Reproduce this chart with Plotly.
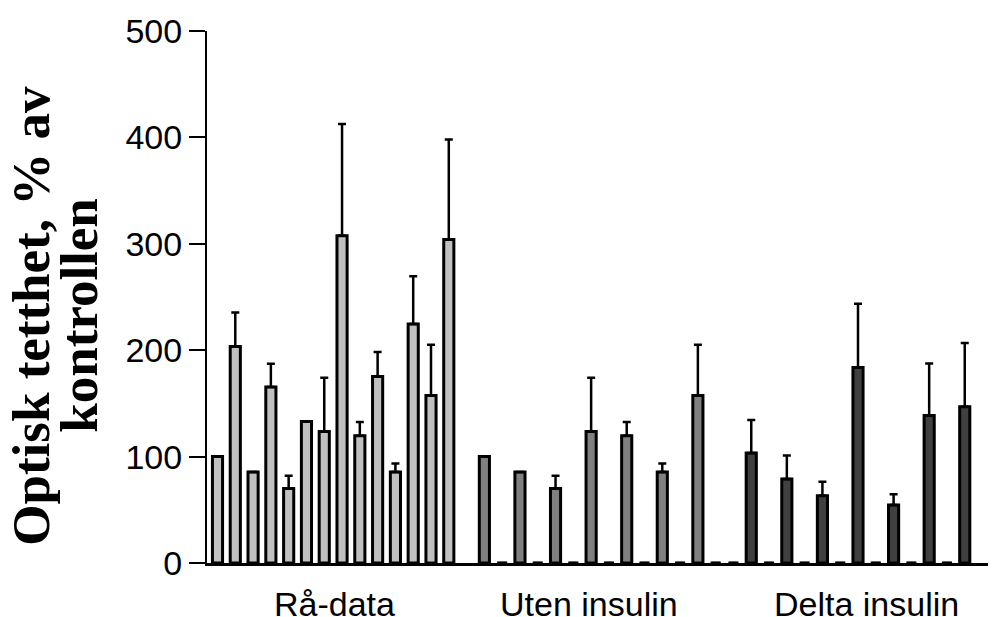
import plotly.graph_objects as go

# slot positions along the category axis (one empty slot between first two groups)
raw_slots = list(range(0, 14))
uten_slots = list(range(15, 29))
delta_slots = list(range(29, 43))

raw_values = [100, 203.5, 85.6, 165.3, 70, 133, 123.5, 307.6, 119.5, 175.3, 85.6, 224.6, 157.4, 304]
raw_errors = [0, 32, 0, 22, 12, 0, 50.5, 105, 13, 23, 8, 45, 47.7, 94]

uten_values = [100, 0, 85.6, 0, 70, 0, 123.5, 0, 119.5, 0, 85.6, 0, 157.4, 0]
uten_errors = [0, 0, 0, 0, 12, 0, 50.5, 0, 13, 0, 8, 0, 47.7, 0]

delta_values = [0, 103.5, 0, 79, 0, 63.3, 0, 183.7, 0, 54.6, 0, 138.6, 0, 146.8]
delta_errors = [0, 31, 0, 22, 0, 13, 0, 60, 0, 10, 0, 49, 0, 60]

group_labels = ["Rå-data", "Uten insulin", "Delta insulin"]
group_label_pos = [6.6, 20.9, 36.5]

y_ticks = [0, 100, 200, 300, 400, 500]
y_title_lines = ["Optisk tetthet, % av", "kontrollen"]

colors = ["#C0C0C0", "#808080", "#404040"]

fig = go.Figure()
for slots, vals, errs, col in [
    (raw_slots, raw_values, raw_errors, colors[0]),
    (uten_slots, uten_values, uten_errors, colors[1]),
    (delta_slots, delta_values, delta_errors, colors[2]),
]:
    fig.add_trace(go.Bar(
        x=slots, y=vals, width=0.57,
        marker=dict(color=col, line=dict(color="black", width=3)),
        error_y=dict(type="data", array=errs, arrayminus=[0] * len(errs),
                     symmetric=False, color="black", thickness=2.5, width=4),
        showlegend=False,
    ))

sans = "Arial, Liberation Sans, sans-serif"
serif = "Times New Roman, Liberation Serif, serif"

annotations = []
for lab, pos in zip(group_labels, group_label_pos):
    annotations.append(dict(
        x=pos, xref="x", y=0, yref="paper", yshift=-41,
        text=lab, showarrow=False, xanchor="center", yanchor="middle",
        font=dict(family=sans, size=34, color="black"),
    ))

for line, xs in zip(y_title_lines, [-176, -128]):
    annotations.append(dict(
        x=0, xref="paper", xshift=xs, y=0.4647, yref="paper",
        text="<b>%s</b>" % line, showarrow=False, textangle=-90,
        xanchor="center", yanchor="middle",
        font=dict(family=serif, size=53, color="black"),
    ))

fig.update_layout(
    width=996, height=617,
    margin=dict(l=199, r=9, t=23, b=62),
    paper_bgcolor="white", plot_bgcolor="white",
    barmode="overlay",
    xaxis=dict(range=[-0.59, 43.7], showline=True, linecolor="black", linewidth=2.5,
               showticklabels=False, ticks="", showgrid=False, zeroline=False,
               automargin=False),
    yaxis=dict(range=[0, 500], tickvals=y_ticks, ticks="outside", ticklen=16,
               tickwidth=2, tickcolor="black", showline=True, linecolor="black",
               linewidth=2, showgrid=False, zeroline=False, automargin=False,
               tickfont=dict(family=sans, size=34, color="black")),
    annotations=annotations,
)

fig.write_html("out.html")
